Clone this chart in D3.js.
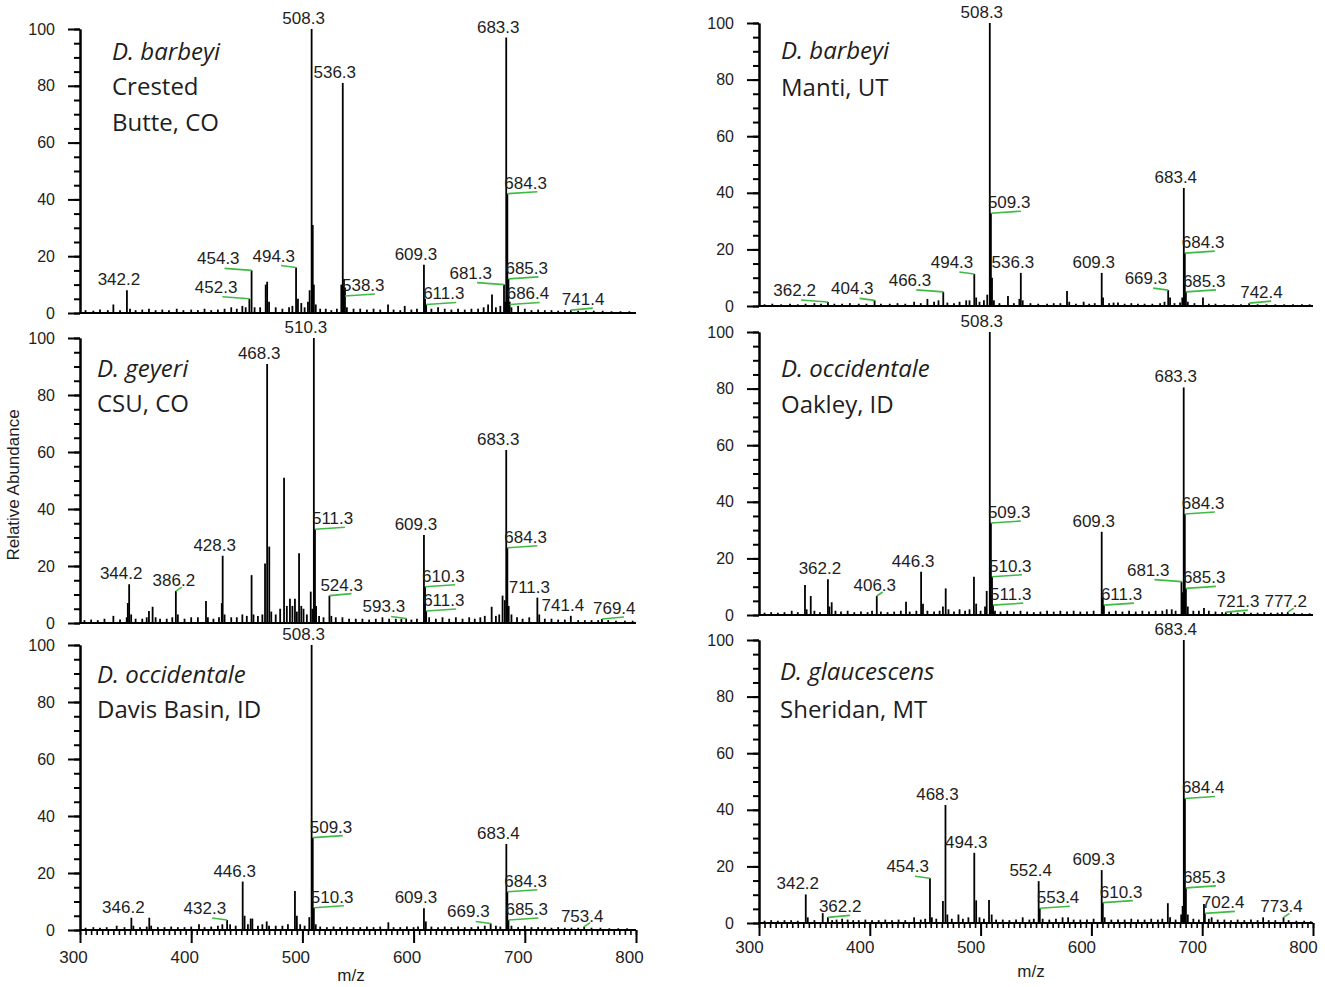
<!DOCTYPE html>
<html>
<head>
<meta charset="utf-8">
<script src="https://cdn.jsdelivr.net/npm/d3@7"></script>
<style>
  body { margin: 0; background: #fff; }
  svg { display: block; }
</style>
</head>
<body>
<svg id="chart" width="1325" height="987"></svg>
<script>
// ---- data: [m/z, relative abundance] ----
const mzTicks = [300, 400, 500, 600, 700, 800];
const abTicks = [0, 20, 40, 60, 80, 100];

const species = ['D. barbeyi', 'D. geyeri', 'D. occidentale', 'D. barbeyi', 'D. occidentale', 'D. glaucescens'];
const sites = [['Crested', 'Butte, CO'], ['CSU, CO'], ['Davis Basin, ID'], ['Manti, UT'], ['Oakley, ID'], ['Sheridan, MT']];

const peaksA = [[305,1],[312,0.8],[318,1.2],[325,1],[330,3],[336,1],[342.2,8],[345,1.5],[350,1],[356,1.2],[362,1.5],[368,1],[374,1.2],[380,1],[387,1.5],[393,1],[400,1.2],[406,1],[412,1.5],[418,1],[424,1.2],[430,1.5],[436,2],[441,1.5],[446,2.5],[449,2],[452.3,5],[454.3,15],[457,2],[462,2],[467,10],[468.3,11],[470,4],[476,2],[482,1.5],[488,2],[491,2.5],[494.3,16],[496,5],[499,3.5],[502,2],[505,4],[506.5,8],[508.3,100],[509.3,31],[510.3,10],[512,3],[516,1.5],[521,1.5],[526,1],[531,1.5],[535,10],[536.3,81],[537.3,12],[538.3,9],[540,2],[546,1.5],[552,1.5],[558,1.2],[564,1.5],[570,1.2],[577,3],[582,1.2],[588,1],[592,2.5],[598,1.2],[603,1.5],[609.3,17],[610.3,5],[611.3,3],[616,1.5],[622,2],[628,1.5],[634,1.2],[640,1.5],[646,1.2],[652,1.5],[658,1.5],[663,2],[667,3],[670.5,6.5],[674,2],[678,2.5],[681.3,10],[682.3,4],[683.3,97],[684.3,42],[685.3,12],[686.4,4],[688,2],[694,2.5],[700,1.5],[706,1],[712,1.2],[718,1],[724,1],[730,0.8],[736,1],[741.4,1],[748,0.8],[755,0.8],[762,0.8],[770,0.8],[778,0.6],[786,0.6],[794,0.6]];
const labelsA = [['508.3',508.3,100,'top'],['536.3',536.3,81,'top'],['683.3',683.3,97,'top'],['342.2',342.2,8,'top'],['454.3',454.3,15,'left'],['452.3',452.3,5,'left'],['494.3',494.3,16,'lefts'],['538.3',538.3,6,'right'],['609.3',609.3,17,'top'],['611.3',611.3,3,'right'],['681.3',681.3,10,'left'],['684.3',684.3,42,'right'],['685.3',685.3,12,'right'],['686.4',686.4,3,'right'],['741.4',741.4,1,'rights']];

const peaksB = [[304,1],[310,1.2],[316,1],[322,1.5],[330,2.5],[336,1.2],[342,2],[343,7],[344.2,13.6],[346,3],[350,1.5],[356,1.5],[360,2],[362,4.2],[365.3,5.7],[368,2],[372,1.5],[378,1.5],[383,2],[386.2,11.2],[388,3],[394,1.5],[400,2],[406,2],[413.3,7.7],[415,2],[420,1.5],[425,2],[427.5,7],[428.3,23.6],[430,3],[436,2],[441,2],[446,3],[450,2.5],[454.3,16.8],[456,3],[460,2.5],[464,3],[466.4,20.9],[468.3,90.9],[470.2,26.8],[472,4],[476,3],[480,5],[483.5,51],[486,6],[488.8,8.5],[491,6],[493.3,8.5],[495,4],[497,24.5],[499,6],[501,5],[504,3],[507.5,11],[509,5],[510.3,100],[511.3,32.9],[512.3,6],[515,2.5],[519,2],[524.3,9.6],[526,2.5],[530,2],[536,2],[542,1.5],[548,1.5],[554,1.5],[560,1.2],[566,1.5],[572,2],[578,1.5],[584,1.5],[589,1.5],[593.3,1.6],[598,1.2],[603,1.5],[609.3,30.9],[610.3,12.7],[611.3,4.2],[614,2],[620,1.5],[626,2],[632,1.5],[638,2],[644,1.5],[650,2],[655,1.5],[660,2],[664,2.5],[670.2,5.7],[674,2.5],[677,3],[680,9.6],[682,8],[683.3,60.7],[684.3,26.4],[685.5,6],[688,3],[693,2],[698,1.5],[704,2],[711.3,8.9],[713,3],[718,1.5],[724,1.5],[730,1.2],[736,1.2],[741.4,2.5],[748,1],[754,1],[760,1],[766,1],[769.4,1.4],[775,1],[782,0.8],[790,0.8],[797,0.8]];
const labelsB = [['510.3',510.3,100,'top'],['468.3',468.3,90.9,'top'],['683.3',683.3,60.7,'top'],['344.2',344.2,13.6,'top'],['386.2',386.2,11.2,'topg'],['428.3',428.3,23.6,'top'],['511.3',511.3,32.9,'right'],['524.3',524.3,9.6,'rights'],['593.3',593.3,1.6,'lefts'],['609.3',609.3,30.9,'top'],['610.3',610.3,12.7,'right'],['611.3',611.3,4.2,'right'],['684.3',684.3,26.4,'right'],['711.3',711.3,8.9,'top'],['741.4',741.4,2.5,'top'],['769.4',769.4,1.4,'rights']];

const peaksC = [[305,0.8],[312,1],[318,0.8],[324,1],[333,1.5],[340,1],[346.2,4.3],[348,1.5],[354,1],[360,1.2],[362.3,4.3],[364,1.5],[370,1],[376,1],[382,1.2],[388,1],[394,1],[400,1.2],[407,2],[412,1],[418,1.2],[424,1.5],[428,2],[432.3,3.5],[435,2],[440,1.5],[446.3,17],[448,5],[451,2],[453.5,4],[455,4],[460,1.5],[464,2],[467.9,3],[470,1.5],[476,1.5],[482,1.5],[487,2],[493.3,13.7],[495,5],[498,2],[502,1.5],[506.2,4.5],[508.3,100],[509.3,32.4],[510.3,7.8],[512,2],[516,1.2],[522,1],[528,1.2],[534,1],[540,1.2],[546,1],[552,1],[558,1.2],[564,1],[570,1.2],[577.3,2.7],[582,1],[588,1],[594,1.2],[600,1],[604,1.2],[609.3,7.6],[611,3],[616,1.2],[622,1],[628,1.2],[634,1],[640,1.2],[646,1],[652,1],[658,1.2],[664,1.5],[669.3,2.3],[674,1.5],[678,1.2],[683.4,30.2],[684.3,13.4],[685.3,3.5],[688,1.5],[694,1],[700,1.5],[706,1],[712,1],[718,1],[724,0.8],[730,1],[736,0.8],[742,0.8],[748,0.8],[753.4,1.2],[760,0.8],[768,0.8],[776,0.6],[784,0.6],[792,0.6]];
const labelsC = [['508.3',508.3,100,'top'],['346.2',346.2,4.3,'top'],['432.3',432.3,3.5,'lefts'],['446.3',446.3,17,'top'],['509.3',509.3,32.4,'right'],['510.3',510.3,7.8,'right'],['609.3',609.3,7.6,'top'],['669.3',669.3,2.3,'lefts'],['683.4',683.4,30.2,'top'],['684.3',684.3,13.4,'right'],['685.3',685.3,3.5,'right'],['753.4',753.4,1.2,'topg']];

const peaksD = [[305,0.6],[312,0.8],[320,0.6],[328,0.8],[335,0.6],[342,0.8],[350,1],[356,0.8],[362.2,1.4],[368,0.8],[375,0.8],[382,1],[390,0.8],[397,0.8],[404.3,2],[410,0.8],[418,0.8],[425,1],[432,0.8],[440,1.5],[446,1],[452,2.5],[458,1.5],[462,2],[466.3,5],[470,1.2],[476,1],[481,1.5],[487,2],[490,2],[494.3,11.3],[496,3],[499,1.5],[503,2],[506,4],[508.3,100],[509.3,32.8],[510.3,10],[512,2],[517,1],[524.7,3.5],[530,1],[535,2.5],[536.3,11.7],[538,2],[545,1],[552,0.8],[560,0.8],[566,1],[572,1],[578,5.3],[580,1.5],[586,0.8],[593,1.5],[598,0.8],[603,1],[609.3,11.7],[610.5,3],[616,1],[620,1.2],[624,1.2],[630,0.8],[636,1],[642,0.8],[648,0.8],[655,0.8],[662,1],[666,1.5],[669.3,5.6],[671,3],[675,1],[680,1.2],[682,3],[683.4,41.7],[684.3,18.7],[685.3,5],[687,1.5],[693,1],[700.7,3],[706,0.8],[712,0.8],[720,0.6],[728,0.6],[735,0.6],[742.4,1],[750,0.6],[758,0.6],[766,0.6],[774,0.6],[782,0.6],[790,0.6],[797,0.6]];
const labelsD = [['508.3',508.3,100,'top'],['362.2',362.2,1.4,'left'],['404.3',404.3,2,'lefts'],['466.3',466.3,5,'left'],['494.3',494.3,11.3,'lefts'],['509.3',509.3,32.8,'right'],['536.3',536.3,11.7,'top'],['609.3',609.3,11.7,'top'],['669.3',669.3,5.6,'lefts'],['683.4',683.4,41.7,'top'],['684.3',684.3,18.7,'right'],['685.3',685.3,5,'right'],['742.4',742.4,1,'rights']];

const peaksE = [[305,0.8],[311,1],[317,0.8],[323,1],[329.5,1.5],[335,1],[341.5,10.6],[343,2],[346.7,6.7],[350,1.5],[355,1],[362.2,12.6],[363.5,3],[365.6,4.5],[369,1.5],[374,1.2],[380,1.5],[386,1],[392,1.2],[398,1],[402,1.5],[406.3,6.7],[410,1.2],[416,1],[422,1.2],[428,1.5],[432.7,4.7],[436,1.2],[442,1.5],[446.3,15.3],[448,4],[452,1.5],[458,1.2],[463,1.5],[466,3],[468.5,9.4],[471,2],[476,1.2],[481,2],[486,1.5],[490,2],[494,13.5],[496,4],[500,1.5],[504,3],[505.5,8.5],[508.3,100],[509.3,32.5],[510.3,13.5],[511.3,3.5],[513,1.5],[518,1.2],[524,1.5],[530,1.2],[536,1.5],[542,1.2],[548,1],[554,1.2],[560,1.5],[566,1.2],[572,1.5],[578,1.2],[584,1.5],[590,1.2],[596,1.2],[602,1.5],[609.3,29.4],[610.3,6],[611.3,3.5],[616,1.2],[622,1.5],[628,1.2],[634,1.5],[640,1.2],[646,1.5],[652,1.2],[658,1.5],[664,1.5],[668,2],[672.5,2],[676,1.5],[681.3,11.8],[682.3,8],[683.3,80.4],[684.3,35.7],[685.3,9.4],[687,3],[692,1.5],[697,1.5],[701.6,2.5],[706,1.5],[712,1.2],[718,1],[721.3,1],[726,1],[732,0.8],[738,1],[744,0.8],[750,0.8],[756,1],[762,0.8],[768,0.8],[772,1],[777.2,1],[783,0.8],[790,0.6],[797,0.6]];
const labelsE = [['508.3',508.3,100,'top'],['362.2',362.2,12.6,'top'],['406.3',406.3,6.7,'topg'],['446.3',446.3,15.3,'top'],['509.3',509.3,32.5,'right'],['510.3',510.3,13.5,'right'],['511.3',511.3,3.5,'right'],['609.3',609.3,29.4,'top'],['611.3',611.3,3.5,'right'],['681.3',681.3,11.8,'left'],['683.3',683.3,80.4,'top'],['684.3',684.3,35.7,'right'],['685.3',685.3,9.4,'right'],['721.3',721.3,1,'rights'],['777.2',777.2,1,'topg']];

const peaksF = [[305,0.8],[311,1],[317,0.8],[323,1],[329,1],[335,0.8],[342.2,10.1],[344,2],[350,1],[357.5,3.5],[362.2,2],[366,1],[370,1.2],[375,1.5],[380,1.2],[385,1],[390,1],[396,1.2],[402,1],[408,1],[414,1.2],[420,1],[426,1.2],[432,1],[440,2],[446,1.2],[450,1.5],[454.3,15.8],[456,2],[460,1.5],[466,7.8],[468.3,41.7],[470,3],[474,1.5],[480,3],[484,1.5],[489,2],[494.3,24.8],[496,8],[499,2],[503,1.5],[507.6,8.1],[510,3],[514,1.2],[520,1.2],[526,1],[532,1.2],[538,2],[544,1.2],[548,1.5],[552.4,14.8],[553.4,5.2],[556,1.5],[562,1.2],[568,1.5],[574,2],[579,2],[584,1.2],[590,1.2],[596,1.2],[602,1.5],[609.3,18.7],[610.3,7.2],[612,2],[618,1.2],[624,1.2],[630,1.2],[636,1.5],[642,1.2],[648,1.2],[654,1.5],[660,1.2],[664,1.5],[669,7],[671,2],[676,1.2],[681,3],[682.3,6],[683.4,100],[684.4,44],[685.3,12.4],[687,3],[692,1.5],[697,1.2],[701.6,6.7],[702.4,3.4],[706,1.5],[708.5,2],[714,1.2],[720,1.2],[726,1],[732,1.2],[738,1],[744,1.2],[750,1],[755,2],[760,1],[766,1],[773.4,2],[778,1],[785,0.8],[792,0.8],[798,0.6]];
const labelsF = [['683.4',683.4,100,'top'],['342.2',342.2,10.1,'top'],['362.2',362.2,2,'rights'],['454.3',454.3,15.8,'lefts'],['468.3',468.3,41.7,'top'],['494.3',494.3,24.8,'top'],['552.4',552.4,14.8,'top'],['553.4',553.4,5.2,'right'],['609.3',609.3,18.7,'top'],['610.3',610.3,7.2,'right'],['684.4',684.4,44,'right'],['685.3',685.3,12.4,'right'],['702.4',702.4,3.4,'right'],['773.4',773.4,2,'topg']];

const peakSets = [peaksA, peaksB, peaksC, peaksD, peaksE, peaksF];
const labelSets = [labelsA, labelsB, labelsC, labelsD, labelsE, labelsF];

// ---- layout ----
const cols = [{ x0: 80, x1: 636, dx: -7 }, { x0: 759, x1: 1313, dx: -10 }];
const layout = [
  { col: 0, top: 29,  base: 313, tx: 112, ty: [60, 95, 131] },
  { col: 0, top: 338, base: 623, tx: 97,  ty: [377, 412] },
  { col: 0, top: 645, base: 930, tx: 97,  ty: [683, 718], axis: true },
  { col: 1, top: 23,  base: 306, tx: 781, ty: [59, 96] },
  { col: 1, top: 332, base: 615, tx: 781, ty: [377, 413] },
  { col: 1, top: 640, base: 923, tx: 780, ty: [680, 718], axis: true }
];

const GREEN = '#3fba45';
const INK = '#1e1e1e';
const SANS = '"Liberation Sans", Arial, sans-serif';

const svg = d3.select('#chart');

layout.forEach((L, i) => {
  const c = cols[L.col];
  const x = d3.scaleLinear().domain([300, 800]).range([c.x0, c.x1]);
  const y = d3.scaleLinear().domain([0, 100]).range([L.base, L.top]);
  const g = svg.append('g');

  // peaks
  g.selectAll('.peak')
    .data(peakSets[i])
    .join('line')
    .attr('class', 'peak')
    .attr('x1', d => x(d[0])).attr('x2', d => x(d[0]))
    .attr('y1', y(0)).attr('y2', d => y(d[1]))
    .attr('stroke', '#000')
    .attr('stroke-width', 1.8);

  // baseline
  g.append('line')
    .attr('x1', c.x0).attr('x2', c.x1)
    .attr('y1', y(0)).attr('y2', y(0))
    .attr('stroke', '#000').attr('stroke-width', 2.2);

  // y axis: minor every 5, major every 20
  const yMinor = g.append('g')
    .attr('transform', `translate(${c.x0},0)`)
    .call(d3.axisLeft(y).tickValues(d3.range(0, 101, 5)).tickSize(6).tickSizeOuter(0).tickFormat(''));
  const yMajor = g.append('g')
    .attr('transform', `translate(${c.x0},0)`)
    .call(d3.axisLeft(y).tickValues(abTicks).tickSize(12).tickSizeOuter(0).tickPadding(13));
  [yMinor, yMajor].forEach(a => {
    a.selectAll('path, line').attr('stroke', '#000').attr('stroke-width', 2);
  });
  yMajor.selectAll('text')
    .attr('font-family', SANS).attr('font-size', 16).attr('fill', INK);

  // x axis ticks only on the bottom row
  if (L.axis) {
    const xMinor = g.append('g')
      .attr('transform', `translate(0,${y(0)})`)
      .call(d3.axisBottom(x).tickValues(d3.range(300, 801, 5)).tickSize(5).tickSizeOuter(0).tickFormat(''));
    const xMajor = g.append('g')
      .attr('transform', `translate(0,${y(0)})`)
      .call(d3.axisBottom(x).tickValues(mzTicks).tickSize(13).tickSizeOuter(0).tickPadding(L.col ? 5 : 8));
    [xMinor, xMajor].forEach(a => {
      a.select('.domain').remove();
      a.selectAll('line').attr('stroke', '#000').attr('stroke-width', 1.6);
    });
    xMajor.selectAll('line').attr('stroke-width', 2);
    xMajor.selectAll('text')
      .attr('font-family', SANS).attr('font-size', 17).attr('fill', INK)
      .attr('dx', c.dx);

    g.append('text')
      .attr('x', L.col ? 1031 : 351)
      .attr('y', L.col ? 977 : 981)
      .attr('text-anchor', 'middle')
      .attr('font-family', SANS).attr('font-size', 17).attr('fill', INK)
      .text('m/z');
  }

  // peak annotations
  const ann = g.selectAll('.ann')
    .data(labelSets[i])
    .join('g')
    .attr('class', 'ann');

  const geom = d => {
    const px = x(d[1]), py = y(d[2]);
    switch (d[3]) {
      case 'top':    return { tx: px - 8, ty: py - 5, anchor: 'middle' };
      case 'topg':   return { tx: px - 2, ty: py - 5, anchor: 'middle', line: [px, py, px + 6, py - 4] };
      case 'right':  return { tx: px - 3, ty: py - 5, anchor: 'start',  line: [px, py, px + 30, py - 2] };
      case 'rights': return { tx: px - 9, ty: py - 5, anchor: 'start',  line: [px, py, px + 22, py - 2] };
      case 'left':   return { tx: px - 12, ty: py - 6, anchor: 'end',   line: [px, py, px - 27, py - 2] };
      case 'lefts':  return { tx: px - 1, ty: py - 6, anchor: 'end',    line: [px, py, px - 15, py - 2] };
    }
  };

  ann.filter(d => geom(d).line)
    .append('line')
    .each(function (d) {
      const l = geom(d).line;
      d3.select(this)
        .attr('x1', l[0]).attr('y1', l[1]).attr('x2', l[2]).attr('y2', l[3]);
    })
    .attr('stroke', GREEN)
    .attr('stroke-width', 1.6);

  ann.append('text')
    .attr('x', d => geom(d).tx)
    .attr('y', d => geom(d).ty)
    .attr('text-anchor', d => geom(d).anchor)
    .attr('font-family', SANS)
    .attr('font-size', 17)
    .attr('fill', INK)
    .text(d => d[0]);

  // species / site caption
  const lines = [species[i]].concat(sites[i]);
  g.selectAll('.cap')
    .data(lines)
    .join('text')
    .attr('class', 'cap')
    .attr('x', L.tx)
    .attr('y', (d, k) => L.ty[k])
    .attr('font-family', '"Open Sans", Lato, sans-serif')
    .attr('font-size', 24)
    .attr('font-style', (d, k) => k === 0 ? 'italic' : 'normal')
    .attr('fill', INK)
    .text(d => d);
});

// shared y label
svg.append('text')
  .attr('transform', 'translate(19,485) rotate(-90)')
  .attr('text-anchor', 'middle')
  .attr('font-family', SANS)
  .attr('font-size', 17)
  .attr('fill', INK)
  .text('Relative Abundance');
</script>
</body>
</html>
